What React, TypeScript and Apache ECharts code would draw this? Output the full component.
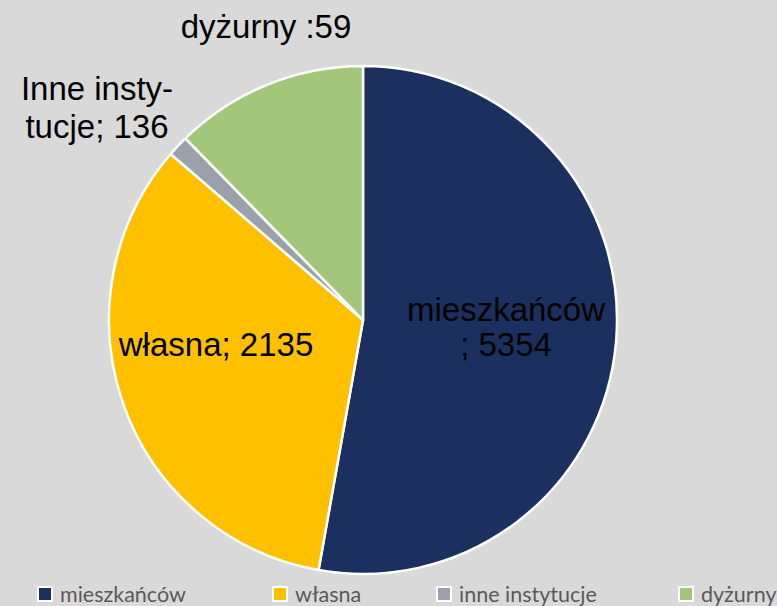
import React, { useEffect, useRef } from "react";
import * as echarts from "echarts";

const categories = ["mieszkańców", "własna", "inne instytucje", "dyżurny"];
// slice sizes
const sliceValues = [5354, 3400, 136, 1250];
// values printed on the data labels
const labelValues = [5354, 2135, 136, 59];
const labelTexts = [
  `mieszkańców\n; ${labelValues[0]}`,
  `własna; ${labelValues[1]}`,
  `Inne insty-\ntucje; ${labelValues[2]}`,
  `dyżurny :${labelValues[3]}`,
];
const colors = ["#1b305e", "#ffc000", "#9aa1aa", "#a3c77a"];

const labelPos: [number, number, number][] = [
  [506, 327, 35],
  [216, 344, 38],
  [97, 107, 38],
  [266, 26, 38],
];
const legendLeft = [37, 272, 436, 678];

export default function App() {
  const ref = useRef<HTMLDivElement>(null);
  useEffect(() => {
    document.body.style.margin = "0";
    const chart = echarts.init(ref.current!, null, { renderer: "svg" });
    chart.setOption({
      animation: false,
      backgroundColor: "#d9d9d9",
      color: colors,
      legend: categories.map((c, i) => ({
        data: [c],
        left: legendLeft[i],
        top: 583,
        icon: "rect",
        itemWidth: 14,
        itemHeight: 14,
        padding: 0,
        textStyle: {
          fontFamily: "Lato",
          fontSize: 21.5,
          color: "#595959",
          padding: [0, 0, 0, 3],
        },
        selectedMode: false,
      })),
      series: [
        {
          type: "pie",
          center: [363, 320],
          radius: 254,
          startAngle: 90,
          clockwise: true,
          label: { show: false },
          labelLine: { show: false },
          emphasis: { disabled: true },
          itemStyle: { borderColor: "#ffffff", borderWidth: 2.5 },
          data: categories.map((c, i) => ({ name: c, value: sliceValues[i] })),
        },
      ],
      graphic: labelTexts.map((t, i) => ({
        type: "text",
        z: 100,
        zlevel: 0,
        x: labelPos[i][0],
        y: labelPos[i][1],
        style: {
          text: t,
          fontFamily: "Liberation Sans",
          fontSize: 33,
          lineHeight: labelPos[i][2],
          fill: "#000000",
          align: "center",
          verticalAlign: "middle",
        },
      })),
    });
    return () => chart.dispose();
  }, []);
  return <div ref={ref} style={{ width: 777, height: 606 }} />;
}
